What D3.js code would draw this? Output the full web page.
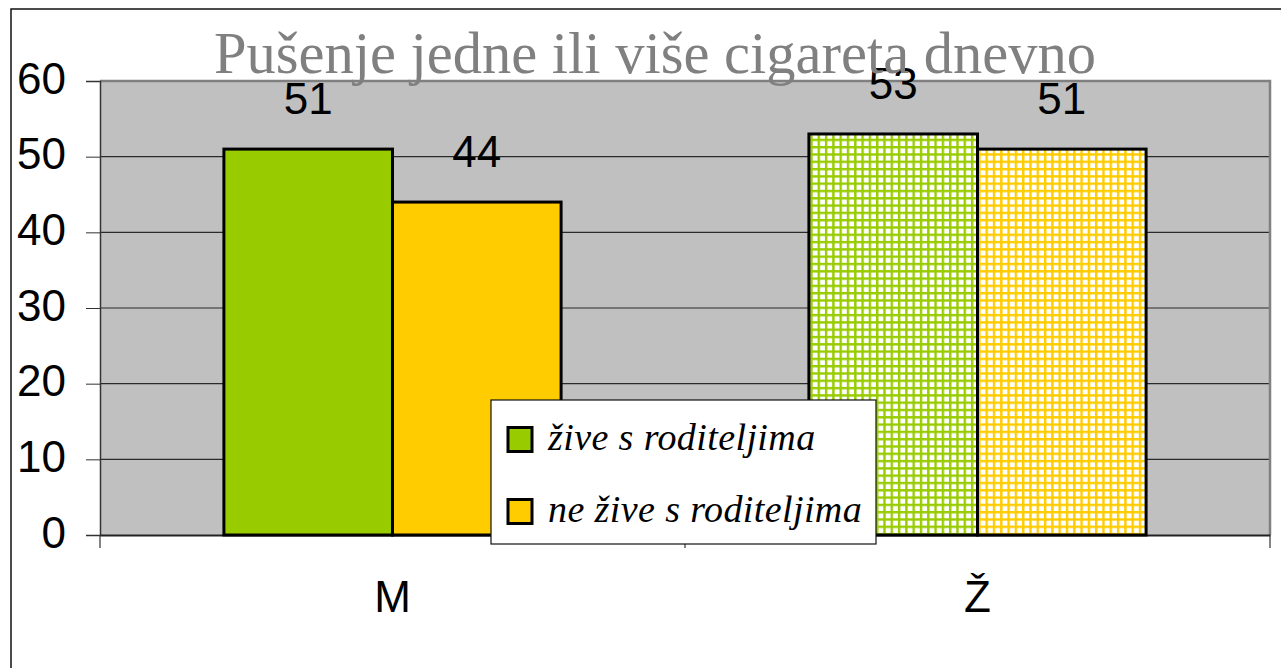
<!DOCTYPE html>
<html>
<head>
<meta charset="utf-8">
<script src="https://cdn.jsdelivr.net/npm/d3@7"></script>
<style>
  html, body { margin: 0; padding: 0; background: #fff; }
  svg { display: block; }
</style>
</head>
<body>
<svg id="chart"></svg>
<script>
const width = 1281;
const height = 668;
const plot = {left: 100, right: 1270, top: 81, bottom: 535};

// Data
const categories = ['M', 'Ž'];
const seriesNames = ['žive s roditeljima', 'ne žive s roditeljima'];
const liveWithParents = [51, 53];
const notLiveWithParents = [44, 51];
const yTicks = [0, 10, 20, 30, 40, 50, 60];
const title = 'Pušenje jedne ili više cigareta dnevno';

const seriesColors = ['#99cc00', '#ffcc00'];
const seriesValues = [liveWithParents, notLiveWithParents];

const svg = d3.select('#chart')
    .attr('width', width)
    .attr('height', height);

// hatch patterns (grid lines on white) for the second category
const defs = svg.append('defs');
seriesColors.forEach((c, i) => {
    const p = defs.append('pattern')
        .attr('id', 'grid' + i)
        .attr('patternUnits', 'userSpaceOnUse')
        .attr('width', 7.3)
        .attr('height', 7.3);
    p.append('rect').attr('width', 7.3).attr('height', 7.3).attr('fill', '#fff');
    p.append('rect').attr('x', 0).attr('y', 0).attr('width', 2.4).attr('height', 7.3).attr('fill', c);
    p.append('rect').attr('x', 0).attr('y', 0).attr('width', 7.3).attr('height', 2.4).attr('fill', c);
});

// outer frame
svg.append('path')
    .attr('d', `M11,${height} L11,9 L${width},9`)
    .attr('fill', 'none')
    .attr('stroke', '#111')
    .attr('stroke-width', 1.5);

// scales
const y = d3.scaleLinear()
    .domain([0, 60])
    .range([plot.bottom, plot.top]);

const x0 = d3.scaleBand()
    .domain(categories)
    .range([plot.left, plot.right])
    .padding(0);

const x1 = d3.scaleBand()
    .domain(d3.range(seriesNames.length))
    .range([0, x0.bandwidth()])
    .paddingInner(0)
    .paddingOuter(0.735);

// plot background
svg.append('rect')
    .attr('x', plot.left)
    .attr('y', plot.top)
    .attr('width', plot.right - plot.left)
    .attr('height', plot.bottom - plot.top)
    .attr('fill', '#c0c0c0');

// gridlines
svg.append('g')
    .selectAll('line')
    .data(yTicks.filter(t => t > 0 && t < 60))
    .join('line')
    .attr('x1', plot.left)
    .attr('x2', plot.right)
    .attr('y1', d => y(d))
    .attr('y2', d => y(d))
    .attr('stroke', '#2a2a2a')
    .attr('stroke-width', 1.2);

// plot border (top + right)
svg.append('path')
    .attr('d', `M${plot.left},${plot.top} L${plot.right},${plot.top} L${plot.right},${plot.bottom}`)
    .attr('fill', 'none')
    .attr('stroke', '#808080')
    .attr('stroke-width', 2.5);

// y axis
const yAxis = svg.append('g')
    .attr('transform', `translate(${plot.left},0)`)
    .call(d3.axisLeft(y).tickValues(yTicks).tickSize(14).tickPadding(20));
yAxis.select('.domain').attr('stroke', '#333').attr('stroke-width', 1.5);
yAxis.selectAll('.tick line').attr('stroke', '#333');
yAxis.selectAll('.tick text')
    .attr('fill', '#000')
    .attr('dy', '0.28em')
    .style('font-family', 'Liberation Sans, Arial, sans-serif')
    .style('font-size', '44px');

// x axis
const xAxis = svg.append('g')
    .attr('transform', `translate(0,${plot.bottom})`)
    .call(d3.axisBottom(x0).tickSize(0).tickPadding(0));
xAxis.select('.domain').attr('stroke', '#222').attr('stroke-width', 2);
xAxis.selectAll('.tick text')
    .attr('fill', '#000')
    .attr('y', 77)
    .attr('dy', 0)
    .style('font-family', 'Liberation Sans, Arial, sans-serif')
    .style('font-size', '44px');
// category separator ticks
xAxis.selectAll('.sep')
    .data(categories.map(c => x0(c)).concat([plot.right]))
    .join('line')
    .attr('class', 'sep')
    .attr('x1', d => d)
    .attr('x2', d => d)
    .attr('y1', 0)
    .attr('y2', 13)
    .attr('stroke', '#333')
    .attr('stroke-width', 1.2);

// bars
const barData = [];
categories.forEach((c, ci) => {
    seriesValues.forEach((vals, si) => {
        barData.push({cat: c, ci, si, value: vals[ci]});
    });
});

svg.append('g')
    .selectAll('rect')
    .data(barData)
    .join('rect')
    .attr('x', d => x0(d.cat) + x1(d.si))
    .attr('y', d => y(d.value))
    .attr('width', x1.bandwidth())
    .attr('height', d => y(0) - y(d.value))
    .attr('fill', d => d.ci === 1 ? `url(#grid${d.si})` : seriesColors[d.si])
    .attr('stroke', '#000')
    .attr('stroke-width', 3);

// value labels
svg.append('g')
    .selectAll('text')
    .data(barData)
    .join('text')
    .attr('x', d => x0(d.cat) + x1(d.si) + x1.bandwidth() / 2)
    .attr('y', d => y(d.value) - 35)
    .attr('text-anchor', 'middle')
    .style('font-family', 'Liberation Sans, Arial, sans-serif')
    .style('font-size', '44px')
    .attr('fill', '#000')
    .text(d => d.value);

// title
svg.append('text')
    .attr('x', 655)
    .attr('y', 73)
    .attr('text-anchor', 'middle')
    .style('font-family', 'Liberation Serif, Times New Roman, serif')
    .style('font-size', '58.5px')
    .attr('fill', '#808080')
    .text(title);

// legend
const legend = svg.append('g').attr('transform', 'translate(491,400)');
legend.append('rect')
    .attr('width', 385)
    .attr('height', 144)
    .attr('fill', '#fff')
    .attr('stroke', '#111')
    .attr('stroke-width', 1.2);

const items = legend.selectAll('.item')
    .data(seriesNames)
    .join('g')
    .attr('class', 'item')
    .attr('transform', (d, i) => `translate(0,${39.5 + i * 72})`);

items.append('rect')
    .attr('x', 17)
    .attr('y', -12)
    .attr('width', 24)
    .attr('height', 24)
    .attr('fill', (d, i) => seriesColors[i])
    .attr('stroke', '#000')
    .attr('stroke-width', 3);

items.append('text')
    .attr('x', 57)
    .attr('y', 10)
    .style('font-family', 'Liberation Serif, Times New Roman, serif')
    .style('font-style', 'italic')
    .style('font-size', '38px')
    .style('letter-spacing', '0.4px')
    .attr('fill', '#000')
    .text(d => d);
</script>
</body>
</html>
